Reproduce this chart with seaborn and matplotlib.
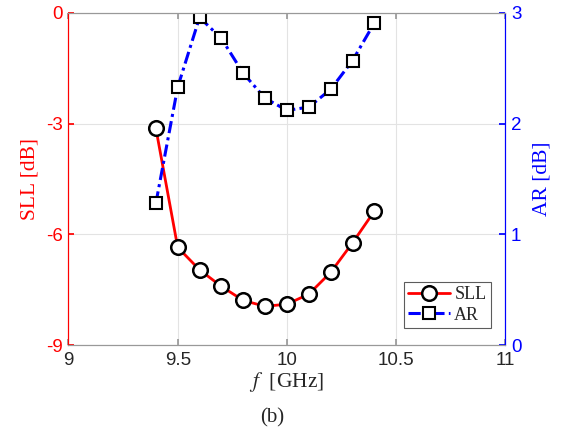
import numpy as np
import pandas as pd
import matplotlib
matplotlib.use("Agg")
import matplotlib.pyplot as plt
import seaborn as sns

freq = [9.4, 9.5, 9.6, 9.7, 9.8, 9.9, 10.0, 10.1, 10.2, 10.3, 10.4]
sll = [-3.12, -6.35, -6.96, -7.41, -7.79, -7.95, -7.89, -7.62, -7.03, -6.23, -5.37]
ar = [1.28, 2.33, 2.96, 2.77, 2.455, 2.23, 2.12, 2.15, 2.31, 2.57, 2.91]
x_ticks = [9, 9.5, 10, 10.5, 11]
sll_ticks = [-9, -6, -3, 0]
ar_ticks = [0, 1, 2, 3]

sns.set_theme(style="white")
plt.rcParams['font.family'] = ['DejaVu Sans']
plt.rcParams['mathtext.fontset'] = 'stix'
serif = 'Liberation Serif'
sansf = 'Liberation Sans'

df = pd.DataFrame({"f": freq, "SLL": sll, "AR": ar})

fig = plt.figure(figsize=(5.61, 4.33), dpi=100)
ax = fig.add_axes([0.122, 0.203, 0.779, 0.767])
ax2 = ax.twinx()

sns.lineplot(data=df, x="f", y="SLL", ax=ax, color="red", lw=2,
             marker="o", markersize=10.5, markerfacecolor="white",
             markeredgecolor="black", markeredgewidth=1.8, label="SLL", legend=False)
sns.lineplot(data=df, x="f", y="AR", ax=ax2, color="blue", lw=2.2,
             linestyle=(0, (4, 1.4, 1, 1.4)),
             marker="s", markersize=8, markerfacecolor="white",
             markeredgecolor="black", markeredgewidth=1.5, label="AR", legend=False)

ax.set_xlim(9, 11)
ax.set_ylim(-9, 0)
ax2.set_ylim(0, 3)
ax.set_xticks(x_ticks)
ax.set_xticklabels(["9", "9.5", "10", "10.5", "11"], fontfamily=sansf, fontsize=13.5, color="#262626")
ax.set_yticks(sll_ticks)
ax.set_yticklabels([str(t) for t in sll_ticks], fontfamily=sansf, fontsize=13.5, color="red")
ax2.set_yticks(ar_ticks)
ax2.set_yticklabels([str(t) for t in ar_ticks], fontfamily=sansf, fontsize=13.5, color="blue")

ax.grid(True, color="#e3e3e3", lw=0.8)
ax.set_axisbelow(True)

for a in (ax, ax2):
    a.spines['top'].set_color('#999999')
    a.spines['bottom'].set_color('#999999')
    a.spines['left'].set_color('red')
    a.spines['right'].set_color('blue')
    for s in a.spines.values():
        s.set_linewidth(0.8)

ax.tick_params(axis='x', direction='in', length=4, color='#999999', pad=5, top=True, bottom=True)
ax.tick_params(axis='y', direction='in', length=4, color='red', pad=4)
ax2.tick_params(axis='y', direction='in', length=4, color='blue', pad=4)

ax.set_xlabel(r"$f$  [GHz]", fontfamily=serif, fontsize=15.5, color="#262626", labelpad=1)
ax.set_ylabel("SLL [dB]", fontfamily=serif, fontsize=15.5, color="red", labelpad=5)
ax2.set_ylabel("AR [dB]", fontfamily=serif, fontsize=15.5, color="blue", labelpad=8)

h1 = ax.get_lines()[0]
h2 = ax2.get_lines()[0]
leg = ax2.legend([h1, h2], ["SLL", "AR"], loc="lower right", bbox_to_anchor=(0.975, 0.04),
                 prop={'family': serif, 'size': 13}, frameon=True, fancybox=False,
                 edgecolor="#333333", handlelength=2.3, handletextpad=0.25,
                 borderpad=0.25, labelspacing=0.2, borderaxespad=0.2)
leg.get_frame().set_linewidth(0.8)

fig.text(0.486, 0.012, "(b)", fontfamily=serif, fontsize=15, ha="center", va="bottom")

fig.savefig("out.png", dpi=100)
